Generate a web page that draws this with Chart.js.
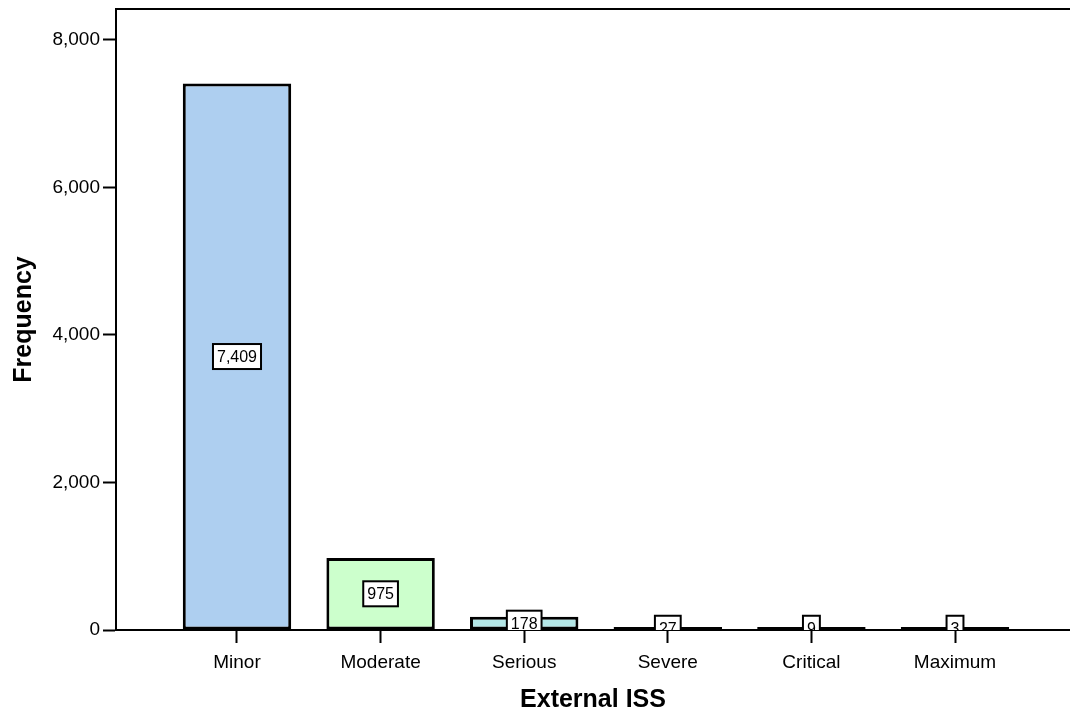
<!DOCTYPE html>
<html><head><meta charset="utf-8">
<script src="https://cdn.jsdelivr.net/npm/chart.js@4/dist/chart.umd.min.js"></script>
<style>html,body{margin:0;padding:0;background:#fff;overflow:hidden;}</style>
</head><body>
<canvas id="c" width="1070" height="715"></canvas>
<script>
const categories = ['Minor', 'Moderate', 'Serious', 'Severe', 'Critical', 'Maximum'];
const frequencies = [7409, 975, 178, 27, 9, 3];
const yTickValues = [0, 2000, 4000, 6000, 8000];
const barColors = ['#aecff0', '#ccffcc', '#b3e6e6', '#d9c9a3', '#f2eaa6', '#cfa6d9'];
const xTitle = 'External ISS';
const yTitle = 'Frequency';

const FONT = 'Arial, "Liberation Sans", sans-serif';
const fmt = v => v.toLocaleString('en-US');

const boxLabels = {
  id: 'boxLabels',
  afterDatasetsDraw(chart) {
    const ctx = chart.ctx, a = chart.chartArea;
    const meta = chart.getDatasetMeta(0);
    ctx.save();
    ctx.beginPath();
    ctx.rect(a.left, a.top, a.right - a.left, a.bottom - a.top);
    ctx.clip();
    ctx.font = '16px ' + FONT;
    ctx.textAlign = 'center';
    ctx.textBaseline = 'middle';
    meta.data.forEach((bar, i) => {
      const txt = fmt(frequencies[i]);
      const cx = bar.x, cy = (bar.y + bar.base) / 2;
      const w = ctx.measureText(txt).width + 8, h = 25;
      ctx.fillStyle = '#fff';
      ctx.fillRect(cx - w / 2, cy - h / 2, w, h);
      ctx.lineWidth = 2;
      ctx.strokeStyle = '#000';
      ctx.strokeRect(cx - w / 2, cy - h / 2, w, h);
      ctx.fillStyle = '#000';
      ctx.fillText(txt, cx, cy + 1);
    });
    ctx.restore();
  },
  afterDraw(chart) {
    const ctx = chart.ctx, a = chart.chartArea;
    ctx.save();
    ctx.strokeStyle = '#000';
    ctx.lineWidth = 2;
    ctx.beginPath();
    ctx.moveTo(a.left - 1, a.top);
    ctx.lineTo(a.right, a.top);
    ctx.stroke();
    ctx.restore();
  }
};

new Chart(document.getElementById('c'), {
  type: 'bar',
  data: {
    datasets: [{
      data: frequencies.map((v, i) => ({ x: i, y: v })),
      backgroundColor: barColors,
      borderColor: '#000',
      borderWidth: 3,
      borderSkipped: false,
      minBarLength: 3,
      barPercentage: 0.755,
      categoryPercentage: 1.0
    }]
  },
  options: {
    responsive: false,
    animation: false,
    devicePixelRatio: 1,
    layout: { padding: { top: 9, right: 0, bottom: 0, left: 0 } },
    plugins: { legend: { display: false }, tooltip: { enabled: false } },
    scales: {
      x: {
        type: 'linear',
        offset: false,
        min: -0.8426,
        max: 5.8008,
        afterBuildTicks: s => { s.ticks = categories.map((c, i) => ({ value: i })); },
        afterFit: s => { s.height = 85; s.paddingLeft = 0; s.paddingRight = 0; },
        ticks: {
          autoSkip: false,
          maxRotation: 0,
          padding: 8,
          color: '#000',
          font: { family: FONT, size: 19 },
          callback: v => categories[v]
        },
        grid: { display: true, offset: false, drawOnChartArea: false, drawTicks: true, tickLength: 13, tickWidth: 2, tickColor: '#000' },
        border: { display: true, color: '#000', width: 2 },
        title: { display: true, text: xTitle, color: '#000', font: { family: FONT, size: 25, weight: 'bold' }, padding: { top: 0, bottom: 0 } }
      },
      y: {
        min: 0,
        max: 8420,
        afterBuildTicks: s => { s.ticks = yTickValues.map(v => ({ value: v })); },
        afterFit: s => { s.width = 116; s.paddingTop = 0; s.paddingBottom = 0; },
        ticks: {
          padding: 3,
          color: '#000',
          font: { family: FONT, size: 19 },
          callback: v => fmt(v)
        },
        grid: { display: true, drawOnChartArea: false, drawTicks: true, tickLength: 13, tickWidth: 2, tickColor: '#000' },
        border: { display: true, color: '#000', width: 2 },
        title: { display: true, text: yTitle, color: '#000', font: { family: FONT, size: 25, weight: 'bold' }, padding: { top: 9, bottom: 0 } }
      }
    }
  },
  plugins: [boxLabels]
});
</script>
</body></html>
